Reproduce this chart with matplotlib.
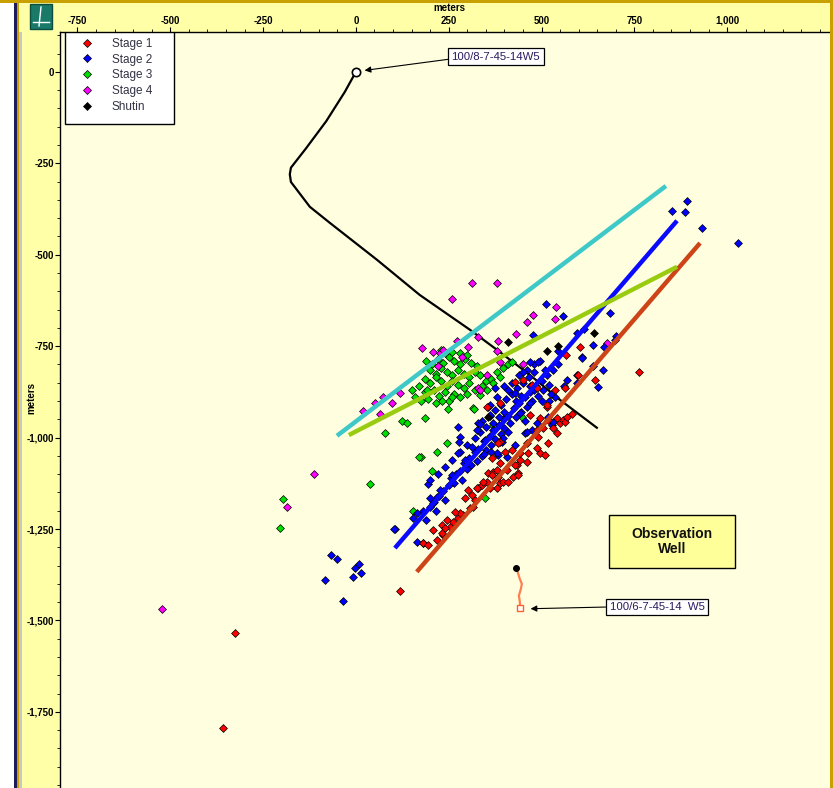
import matplotlib
matplotlib.use("Agg")
import matplotlib.pyplot as plt
from matplotlib.lines import Line2D
from matplotlib.patches import Rectangle
from matplotlib.ticker import MultipleLocator, FuncFormatter

plt.rcParams["font.family"] = ["Liberation Sans", "DejaVu Sans"]

# ── Event locations (meters, easting / northing) ──────────────────────────────
stage1_x = [207, 234, 245, 261, 275, 288, 307, 315, 253, 232, 302, 313, 329, 339, 353, 356, 369, 388,
            396, 409, 380, 383, 361, 436, 434, 442, 463, 496, 509, 461, 366, 401, 388, 380, 407, 423,
            488, 504, 531, 542, 550, 558, 388, 180, 232, 280, 326, 342, 366, 428, 436, 442, 420, 461,
            488, 517, 490, 517, 542, 563, 582, 515, 353, 388, 603, 566, 598, 644, 762, 563, 536, 515,
            496, 469, 568, 119, -326, -358, 218, 194, 240, 267, 294, 321, 428, 450, 474, 488, 383]
stage1_y = [-1252, -1266, -1225, -1230, -1219, -1211, -1192, -1189, -1244, -1260, -1143, -1156, -1137,
            -1129, -1121, -1096, -1094, -1124, -1121, -1121, -1137, -1107, -1137, -1096, -1074, -1061,
            -1042, -1042, -1047, -1066, -1055, -1039, -1069, -1088, -1088, -1107, -979, -973, -973, -987,
            -960, -951, -1012, -1288, -1239, -1206, -1137, -1121, -1102, -1074, -1102, -1042, -1033,
            -1014, -1028, -1014, -998, -951, -946, -957, -935, -916, -916, -905, -752, -774, -828, -842,
            -820, -864, -869, -910, -946, -938, -943, -1419, -1534, -1794, -1280, -1293, -1247, -1203,
            -1165, -1170, -848, -842, -856, -864, -1014]

stage2_x = [180, 190, 200, 210, 215, 225, 235, 240, 250, 255, 265, 270, 280, 285, 290, 300, 305, 310,
            320, 325, 330, 340, 345, 350, 360, 365, 370, 375, 385, 390, 395, 400, 410, 415, 425, 430,
            440, 445, 455, 460, 470, 475, 485, 490, 500, 505, 515, 520, 530, 545, 360, 375, 390, 405,
            420, 435, 450, 465, 480, 370, 385, 400, 350, 335, 320, 340, 355, 330, 380, 400, 420, 440,
            460, 480, 495, 260, 280, 300, 240, 220,
            892, 851, 886, 932, 1029, 684, 638, 668, 700, 609, 512, 558, 477, 595, 614, 698, 544, 609,
            638, 665, 595, 469, 490, 450, 509, 595, 652, 568, 536, 409, 428, 374, 361, 326, 275, 280,
            348, 313, 277, 275, 294, 259, 194, 226, 218, 207, 154, 164, 105, 180, 199, 199, 383, 407,
            428, 455, 474, 528, 442, 461, 488, 531, 517, 380, 393, 361, 334,
            164, 102, -67, -51, 8, -3, 13, -8, -84, -35,
            430, 445, 470, 480, 455, 500, 525, 410, 345, 365, 395, 470, 520, 560]
stage2_y = [-1200, -1225, -1190, -1175, -1200, -1160, -1145, -1170, -1130, -1110, -1125, -1100, -1090,
            -1115, -1070, -1085, -1055, -1075, -1040, -1065, -1030, -1050, -1010, -1035, -995, -1020,
            -980, -1005, -965, -990, -950, -975, -940, -960, -920, -945, -905, -930, -890, -915, -875,
            -900, -860, -885, -845, -870, -830, -855, -815, -800, -940, -925, -910, -895, -880, -865,
            -850, -835, -820, -960, -945, -930, -970, -985, -1000, -955, -915, -960, -890, -860, -850,
            -830, -815, -800, -790, -1060, -1040, -1020, -1080, -1100,
            -353, -380, -383, -427, -468, -659, -746, -752, -722, -779, -634, -667, -719, -714, -703,
            -733, -763, -782, -804, -815, -828, -793, -793, -820, -815, -850, -861, -842, -889, -869,
            -878, -864, -910, -979, -971, -998, -1006, -1025, -1012, -1042, -1061, -1102, -1126, -1143,
            -1162, -1178, -1219, -1285, -1249, -1288, -1115, -1165, -1047, -1053, -1020, -987, -979,
            -965, -932, -984, -960, -957, -943, -1042, -1012, -938, -962,
            -1206, -1249, -1321, -1331, -1345, -1356, -1370, -1381, -1389, -1446,
            -900, -885, -905, -870, -955, -900, -880, -985, -1045, -1040, -1000, -860, -900, -860]

stage3_x = [190, 205, 220, 235, 250, 265, 280, 295, 310, 325, 200, 215, 230, 245, 260, 275, 290, 305,
            320, 335, 185, 200, 215, 230, 245, 260, 275, 290, 305, 350, 170, 185, 210, 225, 240, 265,
            280, 300, 320, 340, 240, 260, 280, 300, 230, 365, 380, 395, 410, 150, 160, 175, 195, 215,
            250,
            124, 137, 78, 245, 218, 175, 205, 154, 348, 248, 315, 369, 447, 420, 388, 369, 353, 334,
            318, 259, 191, 232, 186, 38, -197, -205, 170]
stage3_y = [-790, -800, -785, -795, -780, -790, -800, -785, -795, -805, -815, -825, -810, -820, -830,
            -815, -825, -835, -820, -830, -840, -850, -835, -845, -860, -845, -855, -865, -850, -845,
            -860, -875, -870, -885, -875, -880, -890, -880, -870, -860, -770, -765, -770, -775, -760,
            -840, -820, -810, -800, -870, -890, -900, -895, -905, -900,
            -954, -960, -987, -1014, -1039, -1053, -1091, -1200, -1165, -921, -919, -965, -943, -793,
            -834, -850, -869, -883, -921, -889, -869, -899, -946, -1126, -1167, -1247, -1053]

stage4_x = [313, 380, 259, 477, 461, 539, 536, 431, 383, 329, 272, 178, 207, 226, 221, 286, 302, 388,
            450, 329, 353, 19, 51, 73, 97, 65, 119, 380, 676, 234, 334, -113, -186, -523]
stage4_y = [-577, -577, -621, -664, -684, -642, -675, -716, -735, -725, -735, -755, -766, -768, -804,
            -779, -752, -793, -798, -864, -828, -927, -905, -889, -905, -935, -878, -763, -741, -760,
            -869, -1099, -1189, -1468]

shutin_x = [640, 409, 515, 356, 545]
shutin_y = [-714, -738, -763, -943, -750]

# ── Well trajectories ─────────────────────────────────────────────────────────
well_x = [0, -30, -80, -135, -175, -178, -175, -124, -70, 57, 172, 307, 380, 469, 550, 649]
well_y = [0, -55, -135, -210, -262, -280, -301, -369, -413, -514, -610, -705, -760, -829, -897, -973]

obs_x = [431, 436, 441, 447, 444, 439, 441, 442, 442]
obs_y = [-1356, -1368, -1385, -1400, -1415, -1432, -1445, -1455, -1465]

# ── Fracture trend lines (start / end) ────────────────────────────────────────
trend_lines = {
    "cyan":   ([-51, 835], [-995, -312], "#3ec8c8"),
    "blue":   ([105, 865], [-1302, -407], "#0a0aff"),
    "red":    ([164, 927], [-1367, -468], "#cc4418"),
    "yellow": ([-19, 865], [-993, -533], "#99cc11"),
}

x_ticks = [-750, -500, -250, 0, 250, 500, 750, 1000]
y_ticks = [-1750, -1500, -1250, -1000, -750, -500, -250, 0]

STRIP = "#ffffa8"
PLOT_BG = "#ffffe0"

fig = plt.figure(figsize=(8.33, 7.88), dpi=100, facecolor=STRIP)
ax = fig.add_axes([60 / 833, 0.0, 770 / 833, 756 / 788])
ax.set_facecolor(PLOT_BG)

ax.plot(well_x, well_y, color="black", lw=1.6, zorder=2)
ax.plot(well_x[0], well_y[0], "o", ms=6, mfc="white", mec="black", mew=1.2, zorder=6)
ax.plot(obs_x, obs_y, color="#ff7f50", lw=1.6, zorder=2)
ax.plot(obs_x[0], obs_y[0], "o", ms=4, color="black", zorder=6)
ax.plot(obs_x[-1], obs_y[-1], "s", ms=5, mfc="white", mec="#ff6030", mew=1.0, zorder=6)

marker_kw = dict(marker="D", s=16, edgecolors="black", linewidths=0.5, zorder=3)
ax.scatter(stage3_x, stage3_y, c="#00e000", **marker_kw)
ax.scatter(stage4_x, stage4_y, c="#ff00ff", **marker_kw)
ax.scatter(stage2_x, stage2_y, c="#0000ff", **marker_kw)
ax.scatter(stage1_x, stage1_y, c="#ff0000", **marker_kw)
ax.scatter(shutin_x, shutin_y, c="black", **marker_kw)

for xs, ys, col in trend_lines.values():
    ax.plot(xs, ys, color=col, lw=3.2, solid_capstyle="butt", zorder=4)

ax.set_xlim(-797, 1277)
ax.set_ylim(-1958, 109)

# ── Axes styling ──────────────────────────────────────────────────────────────
fmt = FuncFormatter(lambda v, p: f"{int(round(v)):,}")
ax.xaxis.tick_top()
ax.set_xticks(x_ticks)
ax.set_yticks(y_ticks)
ax.xaxis.set_minor_locator(MultipleLocator(50))
ax.yaxis.set_minor_locator(MultipleLocator(50))
ax.xaxis.set_major_formatter(fmt)
ax.yaxis.set_major_formatter(fmt)
ax.tick_params(which="major", length=3.5, width=0.8, labelsize=7, pad=1)
ax.tick_params(which="minor", length=2, width=0.6)
for lab in ax.get_xticklabels() + ax.get_yticklabels():
    lab.set_fontweight("bold")
for side in ("right", "bottom"):
    ax.spines[side].set_visible(False)
for side in ("left", "top"):
    ax.spines[side].set_linewidth(1.0)

fig.text(449 / 833, 1 - 8 / 788, "meters", ha="center", va="center",
         fontsize=7, fontweight="bold")
fig.text(31 / 833, 1 - 398 / 788, "meters", ha="center", va="center",
         fontsize=7, fontweight="bold", rotation=90)

# ── Legend ────────────────────────────────────────────────────────────────────
legend_items = [("Stage 1", "#ff0000"), ("Stage 2", "#0000ff"), ("Stage 3", "#00e000"),
                ("Stage 4", "#ff00ff"), ("Shutin", "black")]
handles = [Line2D([], [], marker="D", ls="none", ms=4.5, mfc=c, mec="black", mew=0.5)
           for _, c in legend_items]
ax.add_patch(Rectangle((0.0065, 0.878), 0.1415, 0.1225, transform=ax.transAxes,
                       fc="white", ec="black", lw=1.0, zorder=9))
leg = ax.legend(handles, [n for n, _ in legend_items], loc="upper left",
                bbox_to_anchor=(0.021, 0.997), fontsize=8.5, frameon=False,
                handlelength=1.2, handletextpad=1.5, labelspacing=0.32, borderpad=0.3,
                borderaxespad=0)
leg.set_zorder(10)
for t in leg.get_texts():
    t.set_color("#333344")

# ── Annotations ───────────────────────────────────────────────────────────────
box_kw = dict(boxstyle="square,pad=0.3", fc="white", ec="black", lw=0.9)
arrow_kw = dict(arrowstyle="-|>", color="black", lw=0.8, mutation_scale=9, shrinkA=0, shrinkB=2)
ax.annotate("100/8-7-45-14W5", xy=(16, 3), xytext=(377, 41), fontsize=8.2, color="#2a1a5e",
            ha="center", va="center", bbox=box_kw, arrowprops=dict(relpos=(0, 0.3), **arrow_kw),
            zorder=7)
ax.annotate("100/6-7-45-14  W5", xy=(463, -1468), xytext=(811, -1463), fontsize=8.2,
            color="#2a1a5e", ha="center", va="center", bbox=box_kw,
            arrowprops=dict(relpos=(0, 0.5), **arrow_kw), zorder=7)
ax.add_patch(Rectangle((0.713, 0.291), 0.164, 0.070, transform=ax.transAxes,
                       fc="#ffff99", ec="black", lw=1.0, zorder=7))
ax.text(0.795, 0.326, "Observation\nWell", transform=ax.transAxes, fontsize=10,
        fontweight="bold", ha="center", va="center", color="#111111", linespacing=1.15,
        zorder=8)

# ── Window frame decorations ──────────────────────────────────────────────────
fig.patches.append(Rectangle((0, 0), 14 / 833, 1, transform=fig.transFigure,
                             fc="white", ec="none", zorder=0))
fig.patches.append(Rectangle((14 / 833, 0), 3 / 833, 1, transform=fig.transFigure,
                             fc="#1c1c5c", ec="none", zorder=0))
fig.patches.append(Rectangle((17 / 833, 0), 2 / 833, 1, transform=fig.transFigure,
                             fc="#c8a000", ec="none", zorder=0))
fig.patches.append(Rectangle((19 / 833, 0), 3 / 833, 1 - 32 / 788, transform=fig.transFigure,
                             fc="#c8c8c8", ec="none", zorder=0))
fig.patches.append(Rectangle((0, 1 - 3 / 788), 1, 3 / 788, transform=fig.transFigure,
                             fc="#c8a000", ec="none", zorder=0))
fig.patches.append(Rectangle((830 / 833, 0), 3 / 833, 1, transform=fig.transFigure,
                             fc="#c8a000", ec="none", zorder=0))
# toolbar icon in the corner
fig.patches.append(Rectangle((30 / 833, 1 - 29 / 788), 22 / 833, 25 / 788,
                             transform=fig.transFigure, fc="#1a7a6a", ec="#0d4d40", zorder=1))
fig.lines.append(Line2D([41 / 833, 39 / 833], [1 - 7 / 788, 1 - 26 / 788],
                        transform=fig.transFigure, color="white", lw=1.0))
fig.lines.append(Line2D([33 / 833, 49 / 833], [1 - 22 / 788, 1 - 22 / 788],
                        transform=fig.transFigure, color="white", lw=1.0))

fig.savefig("out.png", dpi=100, facecolor=fig.get_facecolor())
